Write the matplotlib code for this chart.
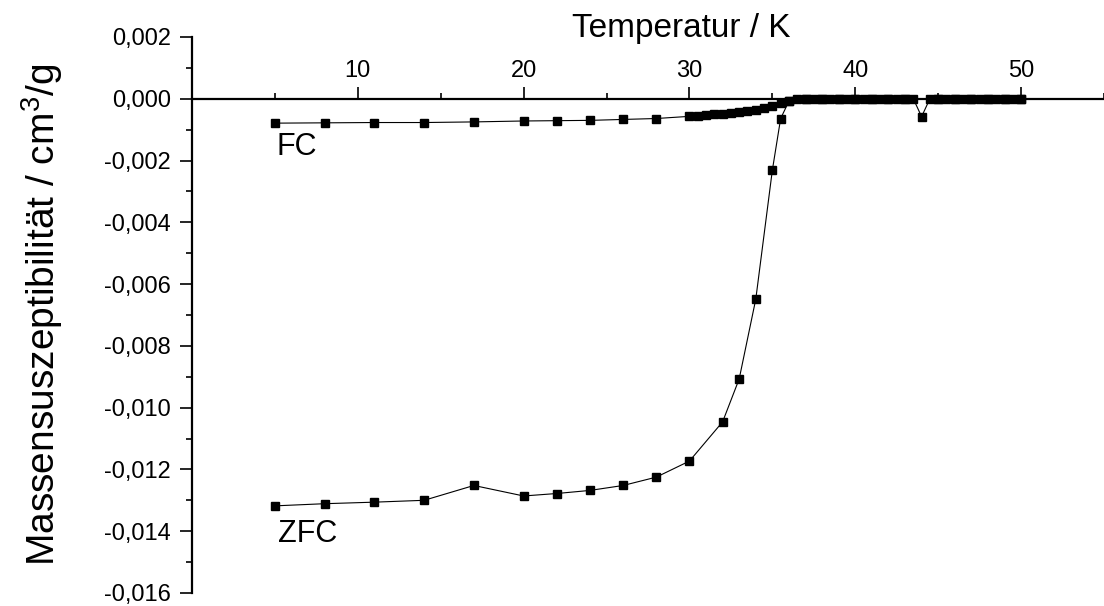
import matplotlib
matplotlib.use("Agg")
import matplotlib.pyplot as plt
from matplotlib.ticker import MultipleLocator, FuncFormatter

plt.rcParams["font.family"] = ["Liberation Sans", "DejaVu Sans"]
plt.rcParams["mathtext.fontset"] = "custom"
plt.rcParams["mathtext.rm"] = "Liberation Sans"

# FC (field cooled) curve
fc_temp = [5, 8, 11, 14, 17, 20, 22, 24, 26, 28,
           30, 30.5, 31, 31.5, 32, 32.5, 33, 33.5, 34, 34.5,
           35, 35.5, 36, 36.5, 37, 37.5, 38, 38.5, 39, 39.5,
           40, 40.5, 41, 41.5, 42, 42.5, 43, 43.5, 44, 44.5,
           45, 45.5, 46, 46.5, 47, 47.5, 48, 48.5, 49, 49.5, 50]
fc_chi = [-0.00079, -0.00078, -0.00077, -0.00077, -0.00075, -0.00072, -0.00071, -0.00070, -0.00067, -0.00064,
          -0.00057, -0.00055, -0.00053, -0.00051, -0.00049, -0.00046, -0.00043, -0.00040, -0.00036, -0.00030,
          -0.00023, -0.00014, -0.00006, -0.00001, 0.0, 0.0, 0.0, 0.0, 0.0, 0.0,
          0.0, 0.0, 0.0, 0.0, 0.0, 0.0, 0.0, 0.0, -0.00058, 0.0,
          0.0, 0.0, 0.0, 0.0, 0.0, 0.0, 0.0, 0.0, 0.0, 0.0, 0.0]

# ZFC (zero field cooled) curve
zfc_temp = [5, 8, 11, 14, 17, 20, 22, 24, 26, 28, 30, 32, 33, 34, 35, 35.5, 36,
            37, 38, 39, 40, 41, 42, 43, 45, 46, 47, 48, 49, 50]
zfc_chi = [-0.01318, -0.01311, -0.01306, -0.01300, -0.01252, -0.01286, -0.01278, -0.01268, -0.01252, -0.01225,
           -0.01173, -0.01046, -0.00907, -0.00649, -0.00231, -0.00064, -0.00008,
           0.0, 0.0, 0.0, 0.0, 0.0, 0.0, 0.0, 0.0, 0.0, 0.0, 0.0, 0.0, 0.0]


def comma_fmt(v, pos):
    s = f"{v:.3f}".replace(".", ",")
    if s == "-0,000":
        s = "0,000"
    return s


fig = plt.figure(figsize=(11.04, 6.06), dpi=100)
ax = fig.add_axes([0.1739, 0.0215, 0.8261, 0.9175])

style = dict(color="black", lw=0.8, marker="s", ms=5.3, mec="black", mfc="black")
ax.plot(fc_temp, fc_chi, **style)
ax.plot(zfc_temp, zfc_chi, **style)

ax.set_xlim(0, 55)
ax.set_ylim(-0.016, 0.002)

# x axis drawn through y = 0, ticks and labels on top
ax.spines["bottom"].set_visible(False)
ax.spines["right"].set_visible(False)
ax.spines["top"].set_position(("data", 0))
ax.spines["top"].set_linewidth(1.6)
ax.spines["left"].set_linewidth(1.6)
ax.xaxis.tick_top()

ax.xaxis.set_major_locator(MultipleLocator(10))
ax.xaxis.set_minor_locator(MultipleLocator(5))
ax.xaxis.set_major_formatter(FuncFormatter(lambda v, p: "" if v == 0 else f"{v:.0f}"))
ax.yaxis.set_major_locator(MultipleLocator(0.002))
ax.yaxis.set_minor_locator(MultipleLocator(0.001))
ax.yaxis.set_major_formatter(FuncFormatter(comma_fmt))

ax.tick_params(axis="both", which="major", direction="out", length=9, width=1.2,
               labelsize=17, color="black")
ax.tick_params(axis="both", which="minor", direction="out", length=4.5, width=1.2)
ax.tick_params(axis="x", which="major", pad=3)
ax.tick_params(axis="y", which="major", pad=6)

ax.text(0.537, 1.0, "Temperatur / K", transform=ax.transAxes, ha="center",
        va="baseline", fontsize=24)
fig.text(0.038, 0.48, "Massensuszeptibilität / cm$^3$/g", rotation=90,
         ha="center", va="center", fontsize=28)

ax.text(5.1, -0.00157, "FC", ha="left", va="center", fontsize=22)
ax.text(5.2, -0.01408, "ZFC", ha="left", va="center", fontsize=22)

fig.savefig("out.png", dpi=100)
